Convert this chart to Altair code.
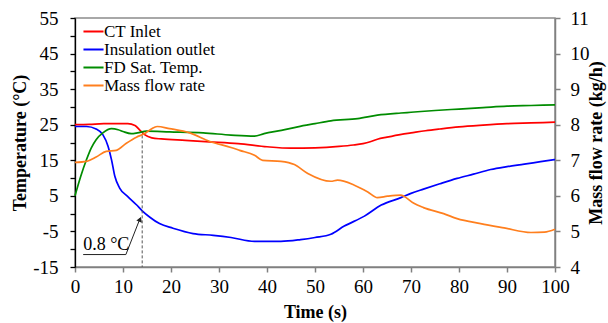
import altair as alt
import pandas as pd

# ---------------- data ----------------
series_names = ["CT Inlet", "Insulation outlet", "FD Sat. Temp.", "Mass flow rate"]
series_colors = ["#ff0000", "#0000ff", "#008c00", "#ff7f1e"]

time_ct = [0, 3, 6, 9, 11, 12.5, 13.5, 14.5, 16, 18, 23, 28, 34, 40, 45, 50, 55, 58, 60,
           61.5, 63, 65, 68, 70, 73, 76, 80, 85, 90, 95, 100]
ct_inlet = [25.0, 25.1, 25.3, 25.3, 25.3, 24.8, 23.5, 22.2, 21.3, 21.0, 20.6, 20.2, 19.7,
            18.8, 18.4, 18.5, 18.9, 19.3, 19.7, 20.2, 20.9, 21.5, 22.3, 22.7, 23.3, 23.8,
            24.4, 24.9, 25.3, 25.5, 25.7]

time_ins = [0, 2.4, 4.4, 5.8, 6.9, 7.6, 8.3, 9.3, 11, 12.8, 14, 15.6, 17.6, 20.4, 24.6,
            28.8, 32.5, 37.4, 42.9, 47, 50, 53.3, 56.1, 60.3, 63.8, 67.9, 70, 72.6, 76,
            79.6, 83, 86.6, 90, 93.6, 97, 100]
ins_outlet = [24.5, 24.5, 23.8, 22.2, 18.9, 15.2, 10.5, 7.2, 4.8, 2.5, 0.8, -1.0, -2.8,
              -4.1, -5.6, -6.1, -6.7, -7.8, -7.8, -7.3, -6.7, -5.8, -3.5, -0.7, 2.4, 4.5,
              5.7, 6.9, 8.4, 9.9, 11.1, 12.4, 13.2, 13.9, 14.6, 15.2]

time_fd = [0, 1.2, 2.4, 3.4, 4.4, 5.8, 7.6, 9, 10, 11.7, 13, 14.9, 19.7, 26.7, 32.5, 37.4,
           39.4, 43, 46.4, 50, 53.3, 58.9, 63, 67.9, 70, 75, 80, 85, 90, 95, 100]
fd_sat = [5.0, 10.5, 15.2, 18.5, 20.8, 22.7, 23.9, 23.6, 23.1, 22.5, 22.7, 23.2, 23.0,
          22.7, 22.1, 21.8, 22.5, 23.4, 24.4, 25.3, 26.1, 26.7, 27.7, 28.3, 28.5, 29.0,
          29.4, 29.8, 30.2, 30.4, 30.6]

time_mf = [0, 2.4, 4.4, 6.5, 8.6, 10.7, 12.8, 14.5, 15.9, 17.1, 19.7, 23.9, 28.1, 32.5,
           34.3, 37.4, 39.1, 42.9, 45.7, 48.5, 53.3, 54.7, 58.2, 61, 63, 65.1, 67.9, 68.5,
           70.6, 72.6, 76.8, 79.6, 84.5, 89.4, 95, 97.8, 100]
mass_flow = [6.94, 6.97, 7.09, 7.25, 7.28, 7.48, 7.65, 7.75, 7.88, 7.95, 7.89, 7.77, 7.53,
             7.36, 7.28, 7.14, 7.0, 6.97, 6.88, 6.63, 6.41, 6.44, 6.3, 6.11, 5.95, 5.99,
             6.02, 5.99, 5.79, 5.67, 5.5, 5.36, 5.22, 5.1, 4.97, 4.98, 5.06]

temp_ticks = list(range(-15, 56, 5))
time_ticks = list(range(0, 101, 10))
mass_ticks = list(range(4, 12))

# annotation (data units)
marker_time = [14]
marker_top = [22.0]
marker_bottom = [-15]
arrow_time = [1.7, 10.6, 13.6]
arrow_value = [-11.5, -11.5, -1.2]
head_time = [13.55]
head_value = [-1.6]
label_time = [1.7]
label_value = [-10.2]
label_text = ["0.8 °C"]

# ---------------- tables ----------------
temp_df = pd.concat([
    pd.DataFrame({"time": time_ct, "value": ct_inlet, "series": series_names[0]}),
    pd.DataFrame({"time": time_ins, "value": ins_outlet, "series": series_names[1]}),
    pd.DataFrame({"time": time_fd, "value": fd_sat, "series": series_names[2]}),
], ignore_index=True)
mass_df = pd.DataFrame({"time": time_mf, "mf": mass_flow, "series": series_names[3]})
rule_df = pd.DataFrame({"time": marker_time, "value": marker_top, "value2": marker_bottom})
arrow_df = pd.DataFrame({"time": arrow_time, "value": arrow_value, "k": range(len(arrow_time))})
head_df = pd.DataFrame({"time": head_time, "value": head_value})
label_df = pd.DataFrame({"time": label_time, "value": label_value, "text": label_text})

FONT = "Liberation Serif"
TITLE_T = "Temperature (°C)"

color_scale = alt.Scale(domain=series_names, range=series_colors)
x_scale = alt.Scale(domain=[0, 100], nice=False, zero=False)
t_scale = alt.Scale(domain=[-15, 55], nice=False, zero=False)

common = dict(grid=False, labelOverlap=False, labelFlush=False, labelFont=FONT,
              titleFont=FONT, labelColor="#000000", titleColor="#000000",
              labelFontSize=19, titleFontSize=18, titleFontWeight="bold", tickSize=5)

x_axis = alt.Axis(values=time_ticks, title="Time (s)", domainColor="#808080",
                  tickColor="#808080", domainWidth=1.5, tickWidth=1.5,
                  labelPadding=5, titleY=36, titleBaseline="top", **common)
left_axis = alt.Axis(values=temp_ticks, title=TITLE_T, domainColor="#000000",
                     tickColor="#000000", domainWidth=1.3, tickWidth=1.3,
                     labelPadding=12,
                     labelExpr="(datum.value + 15) % 10 == 0 ? '' + datum.value : ''",
                     titleAngle=-90, titleX=-55, titleY=124.5, titleBaseline="middle",
                     titleAlign="center", **common)
right_axis = alt.Axis(values=mass_ticks, orient="right", title="Mass flow rate (kg/h)",
                      domainColor="#808080", tickColor="#808080", domainWidth=1.5,
                      tickWidth=1.5, labelPadding=10, titleAngle=-90,
                      titleX=41, titleY=124.5, titleBaseline="middle", titleAlign="center",
                      **common)

legend = alt.Legend(title=None, orient="none", legendX=9, legendY=4,
                    symbolType="M-1.2,0H1.2", symbolSize=280, symbolStrokeWidth=2,
                    labelFontSize=17, labelFont=FONT, labelOffset=1, rowPadding=0,
                    padding=0, labelColor="#000000")

X = alt.X("time:Q", scale=x_scale, axis=x_axis)
Y = alt.Y("value:Q", scale=t_scale, axis=left_axis)

temp_lines = alt.Chart(temp_df).mark_line(strokeWidth=1.7, interpolate="monotone").encode(
    x=X, y=Y,
    color=alt.Color("series:N", scale=color_scale, legend=legend),
)

rule = alt.Chart(rule_df).mark_rule(color="#555555", strokeDash=[3, 2], strokeWidth=1).encode(
    x=X, y=Y, y2="value2:Q",
)
arrow_line = alt.Chart(arrow_df).mark_line(color="#222222", strokeWidth=1).encode(
    x=X, y=Y, order="k:Q",
)
arrow_head = alt.Chart(head_df).mark_point(shape="triangle-up", angle=22, size=35, filled=True,
                                           color="#222222", opacity=1).encode(
    x=X, y=Y,
)
label = alt.Chart(label_df).mark_text(font=FONT, fontSize=18, align="left",
                                      baseline="alphabetic", color="#000000").encode(
    x=X, y=Y, text="text:N",
)

temp_group = alt.layer(temp_lines, rule, arrow_line, arrow_head, label)

mass_line = alt.Chart(mass_df).mark_line(strokeWidth=1.7, interpolate="monotone").encode(
    x=X,
    y=alt.Y("mf:Q", scale=alt.Scale(domain=[4, 11], nice=False, zero=False), axis=right_axis),
    color=alt.Color("series:N", scale=color_scale, legend=legend),
)

chart = alt.layer(temp_group, mass_line).resolve_scale(y="independent").properties(
    width=480, height=249,
    background="#ffffff",
    autosize=alt.AutoSizeParams(type="none"),
    padding={"left": 75, "top": 18, "right": 53, "bottom": 56},
).configure_view(stroke="#8c8c8c", strokeWidth=1.5).configure_axis(labelOverlap=False)

chart.save("out.html", embed_options={"renderer": "svg", "actions": False})
